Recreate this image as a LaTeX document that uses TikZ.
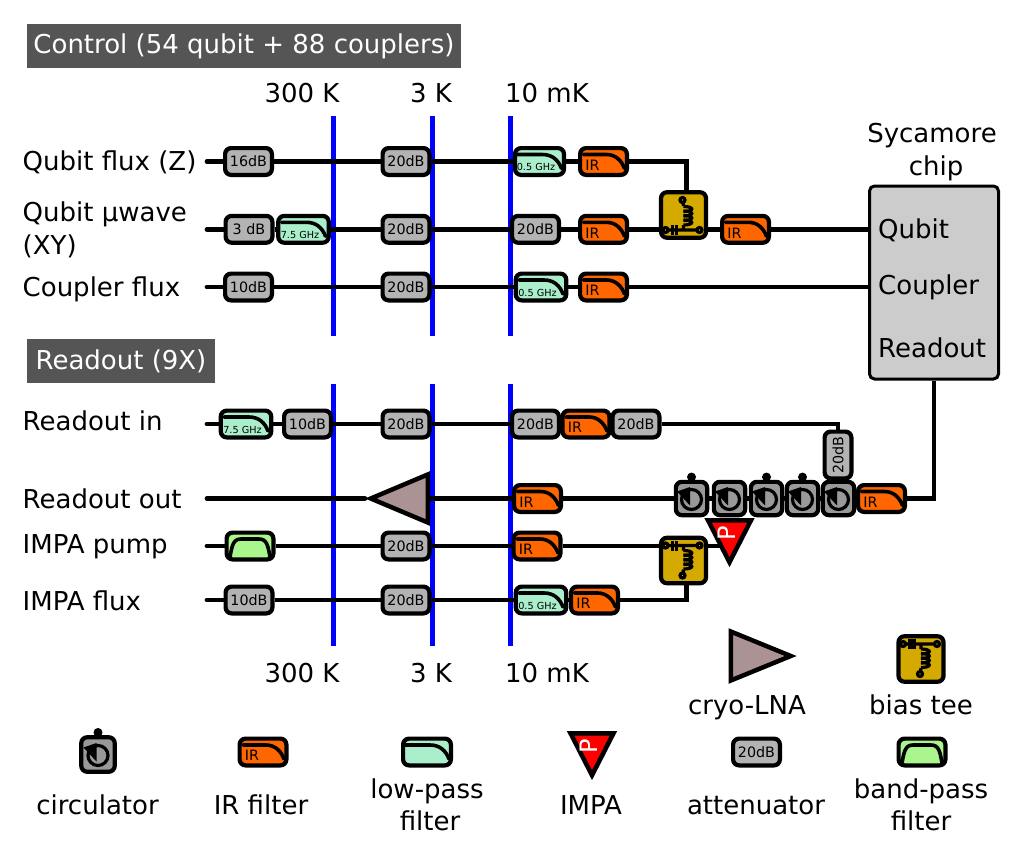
\documentclass[tikz,border=0pt]{standalone}
\usepackage{fontspec}
\setmainfont{DejaVu Sans}
\usetikzlibrary{backgrounds,calc,shapes.geometric}
\definecolor{StageBlue}{HTML}{0000FF}
\definecolor{HeadGray}{HTML}{555555}
\definecolor{ChipGray}{HTML}{CCCCCC}
\definecolor{AttenGray}{HTML}{B3B3B3}
\definecolor{CircGray}{HTML}{999999}
\definecolor{LowGreen}{HTML}{AAEECC}
\definecolor{BandGreen}{HTML}{AAF58C}
\definecolor{IrOrange}{HTML}{FF6600}
\definecolor{TeeGold}{HTML}{D4AA00}
\definecolor{LnaMauve}{HTML}{AC9393}
\newcommand{\bigfont}{\fontsize{26}{32.5}\selectfont}
\newcommand{\partfont}{\fontsize{14.3}{15}\selectfont}
\newcommand{\ghzfont}{\fontsize{9.7}{10}\selectfont}
\tikzset{
  wire/.style={line width=4.8pt,draw=black},
  stage/.style={line width=5pt,draw=StageBlue},
  curve/.style={sharp corners,line width=3.6pt,draw=black,line cap=round},
  part/.style={draw=black,line width=4.2pt,rounded corners=6pt,inner sep=0pt,font=\partfont},
  atten/.style={part,fill=AttenGray,minimum width=46.8pt,minimum height=26.8pt},
  lowpass/.style={part,fill=LowGreen,minimum width=#1,minimum height=26.8pt,
    path picture={\draw[curve,shift={(path picture bounding box.center)}]
      (-22,-7) -- (3,-7) .. controls (13,-7) and (19,-1) .. (22,7);}},
  irfilter/.style={part,fill=IrOrange,minimum width=46.8pt,minimum height=26.8pt,
    label={[font=\partfont,xshift=-11pt,yshift=-3.5pt]center:IR},
    path picture={\draw[curve,shift={(path picture bounding box.center)}]
      (-20,-7) -- (3,-7) .. controls (12,-7) and (18,-1) .. (21,7);}},
  bandpass/.style={part,fill=BandGreen,minimum width=46.8pt,minimum height=26.8pt,
    path picture={\draw[curve,shift={(path picture bounding box.center)}]
      (-20,11) .. controls (-18,0) and (-17,-7) .. (-9,-7) -- (9,-7)
      .. controls (17,-7) and (18,0) .. (20,11);}},
  ghztext/.style={font=\ghzfont,xshift=-3.5pt,yshift=-5.5pt},
  circulator/.style={part,fill=CircGray,minimum width=31.3pt,minimum height=33.3pt,
    path picture={\begin{scope}[sharp corners,shift={(path picture bounding box.center)}]
      \draw[line width=3.2pt] (0,1) circle[radius=10];
      \fill[black] (-14.5,-7) -- (-1.5,-11.5) -- (-1.5,7) -- cycle;
    \end{scope}}},
  circtop/.style={label={[circle,fill=black,minimum size=9pt,inner sep=0pt,label distance=-2pt]90:{}}},
  biastee/.style={part,fill=TeeGold,minimum width=45pt,minimum height=45.5pt,
    path picture={\def\s{#1}\begin{scope}[sharp corners,line width=3.2pt,shift={(path picture bounding box.center)}]
      \draw (-18,15*\s) -- (16,15*\s) (0,15*\s) -- (0,10*\s) (0,-9*\s) -- (-1,-15*\s);
      \draw (-11,10*\s) -- (-11,20*\s) (-7,10*\s) -- (-7,20*\s);
      \foreach \y in {10,5.5,1,-3.5}
        \draw (0,\y*\s) .. controls (11,\y*\s) and (11,\y*\s-5*\s) .. (0,\y*\s-5*\s);
      \draw[fill=TeeGold] (-18,15*\s) circle[radius=2.5] (16,15*\s) circle[radius=2.5] (-1,-15*\s) circle[radius=2.5];
    \end{scope}}},
  lna/.style={isosceles triangle,isosceles triangle stretches,draw=black,line width=4.5pt,fill=LnaMauve,
    minimum width=48pt,minimum height=57pt,inner sep=0pt,anchor=lower side},
  impa/.style={isosceles triangle,isosceles triangle stretches,shape border rotate=-90,draw=black,line width=4.5pt,fill=red,
    minimum width=43pt,minimum height=42pt,inner sep=0pt,anchor=lower side,
    label={[text=white,font=\fontsize{24}{24}\selectfont,rotate=90,yshift=3pt]center:P}},
  chip/.style={draw=black,line width=3pt,rounded corners=5pt,fill=ChipGray,minimum width=129pt,minimum height=193pt},
  header/.style={fill=HeadGray,text=white,font=\bigfont,minimum height=44pt,inner sep=0pt},
  tag/.style={font=\bigfont,anchor=base west,inner sep=0pt},
  mid/.style={font=\bigfont,anchor=base,inner sep=0pt},
  twoline/.style={font=\bigfont,align=center,inner sep=0pt}
}
\begin{document}
\begin{tikzpicture}[x=1pt,y=-1pt]
  \useasboundingbox (0,0) rectangle (1016,867);
  % section headers and text
  \node[header,minimum width=434pt] (hcontrol) at (244,46) {Control (54 qubit + 88 couplers)};
  \node[header,minimum width=188pt] (hreadout) at (121,361) {Readout (9X)};
  \node[chip] (chip) at (934,282.5) {};
  \foreach \name/\y/\lab in {tqz/170/Qubit flux (Z),tqa/221/Qubit µwave,tqb/254/(XY),tcf/296/Coupler flux,
      trin/430/Readout in,trout/508/Readout out,tpump/553/IMPA pump,tflux/610/IMPA flux}
    \node[tag] (\name) at (22.5,\y) {\lab};
  \foreach \name/\y/\lab in {tq/238/Qubit,tc/294/Coupler,tr/357/Readout}
    \node[tag] (\name) at (878,\y) {\lab};
  \foreach \name/\x/\y/\lab in {kta/302/102/300 K,ktb/431/102/3 K,ktc/547/102/10 mK,
      kba/302/682/300 K,kbb/431/682/3 K,kbc/547/682/10 mK,
      lcirc/97.5/814/circulator,lir/261/814/IR filter,limpa/591/814/IMPA,latt/756/814/attenuator,
      llna/747/714/cryo-LNA,ltee/921/714/bias tee}
    \node[mid] (\name) at (\x,\y) {\lab};
  \node[twoline] (tchip) at (932,152) {Sycamore\\\hspace*{8pt}chip};
  \node[twoline] (llow) at (427,805) {low-pass\\\hspace*{6pt}filter};
  \node[twoline] (lband) at (921,805) {band-pass\\filter};

  % attenuators
  \foreach \name/\x/\y/\lab in {az1/248.5/161.5/16dB,az2/406/161.5/20dB,
      ax1/249/229.3/3 dB,ax2/406/229.3/20dB,ax3/535.5/229.3/20dB,
      ac1/248.5/287/10dB,ac2/406/287/20dB,
      ai1/307.5/424/10dB,ai2/406/424/20dB,ai3/535.5/424/20dB,ai4/636/424/20dB,
      ap1/406/546/20dB,af1/249/600/10dB,af2/406/600/20dB,aleg/756.5/752/20dB}
    \node[atten] (\name) at (\x,\y) {\lab};
  \node[atten,rotate=90] (av) at (838,455) {20dB};

  % low-pass filters
  \foreach \name/\x/\y/\w/\lab in {lz/539.5/161.5/49/0.5 GHz,lx/303.5/229.3/50.5/7.5 GHz,lc/541/287/50.5/0.5 GHz,
      li/246/424/50.5/7.5 GHz,lf/541/600/50.5/0.5 GHz}
    \node[lowpass=\w pt,label={[ghztext]center:\lab}] (\name) at (\x,\y) {};
  \node[lowpass=47.8pt] (lleg) at (427,752) {};

  % IR filters
  \foreach \name/\x/\y in {iz/603.5/161.5,ix/603.5/229.3,ix2/745.5/229.3,ic/603.5/287,
      ii/586/424,iro/537.5/498.5,ir2/881.5/498.5,ip/537/546,if/594.5/600,ileg/263/752}
    \node[irfilter] (\name) at (\x,\y) {};
  \node[bandpass] (bp) at (250,546) {};
  \node[bandpass] (bleg) at (922,752) {};

  % amplifiers, pump first so the circulators sit over it
  \node[lna,shape border rotate=180] (lnaro) at (430,498.5) {};
  \node[lna,minimum width=49pt,minimum height=60pt] (lnaleg) at (728.5,656) {};
  \node[impa] (impa) at (729.5,518) {};
  \node[impa] (impaleg) at (592,731) {};

  % circulators and bias tees
  \foreach \name/\x/\y/\opt in {c1/691.5/498.5/circtop,c2/729.5/498.5/part,c3/766.5/498.5/circtop,
      c4/802.5/498.5/circtop,c5/838.5/498.5/part}
    \node[circulator,\opt] (\name) at (\x,\y) {};
  \node[circulator,circtop,minimum width=33.5pt,minimum height=34.5pt] (cleg) at (98,754.5) {};
  \node[biastee=1] (tee1) at (683.5,215) {};
  \node[biastee=-1] (tee2) at (683.5,560.5) {};
  \node[biastee=-1] (teeleg) at (921,659) {};

  \begin{scope}[on background layer]
    \foreach \name/\x/\ya/\yb in {sa/333.5/116/336,sb/432/116/336,sc/510/116/336,
        sd/333.5/384/646,se/432/384/646,sf/510/384/646}{
      \coordinate (\name top) at (\x,\ya);
      \coordinate (\name bot) at (\x,\yb);
      \draw[stage] (\name top) -- (\name bot);
    }
    \foreach \name/\y in {wz/161.5,wx/229.3,wc/287,wi/424,wo/498.5,wp/546,wf/600}
      \coordinate (\name) at (207,\y);
    \draw[wire,line cap=round] (wz) -- (az1);
    \draw[wire] (az1) -- (az2) -- (lz) -- (iz);
    \draw[wire] (iz) -| ([xshift=3pt]tee1.north);
    \draw[wire,line cap=round] (wx) -- (ax1);
    \draw[wire] (ax1) -- (lx) -- (ax2) -- (ax3) -- (ix) -- (ix -| tee1.west);
    \draw[wire] (ix -| tee1.east) -- (ix2) -- (ix2 -| chip.west);
    \draw[wire,line cap=round] (wc) -- (ac1);
    \draw[wire] (ac1) -- (ac2) -- (lc) -- (ic) -- (ic -| chip.west);
    \draw[wire,line cap=round] (wi) -- (li);
    \draw[wire] (li) -- (ai1) -- (ai2) -- (ai3) -- (ii) -- (ai4);
    \draw[wire] (ai4) -| (av);
    \draw[wire] (av) -- (c5);
    \draw[wire,line cap=round] (wo) -- (lnaro);
    \draw[wire] (lnaro) -- (iro) -- (c1) -- (c2) -- (c3) -- (c4) -- (c5) -- (ir2);
    \draw[wire] (ir2) -| (chip.south);
    \draw[wire,line cap=round] (wp) -- (bp);
    \draw[wire] (bp) -- (ap1) -- (ip) -- (ip -| impa);
    \draw[wire,line cap=round] (wf) -- (af1);
    \draw[wire] (af1) -- (af2) -- (lf) -- (if);
    \draw[wire] (if) -| ([xshift=3pt]tee2.south);
  \end{scope}
\end{tikzpicture}
\end{document}
